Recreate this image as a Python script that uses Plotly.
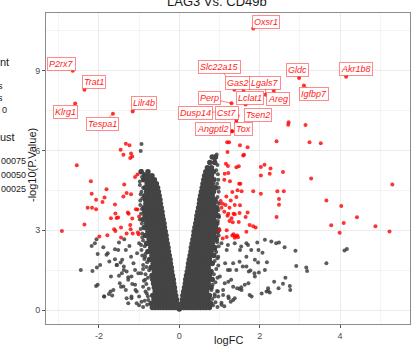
import plotly.graph_objects as go

# ---- data -----------------------------------------------------------------
# Non-significant genes, dense core of the volcano: (-log10 p, [logFC, ...])
gray_core_rows = [
    (0.04, [0.0]),
    (0.10, [-0.04, -0.11, -0.18, -0.25, -0.32, -0.39, -0.46, -0.53, -0.60, -0.67,
            0.04, 0.11, 0.18, 0.25, 0.32, 0.39, 0.46, 0.53, 0.60, 0.67, 0.75]),
    (0.25, [-0.06, -0.13, -0.20, -0.27, -0.34, -0.41, -0.48, -0.55, -0.62, -0.70,
            0.06, 0.13, 0.20, 0.27, 0.34, 0.41, 0.48, 0.55, 0.62, 0.70, 0.78]),
    (0.40, [-0.07, -0.14, -0.21, -0.28, -0.35, -0.42, -0.49, -0.56, -0.63,
            0.08, 0.15, 0.22, 0.29, 0.36, 0.43, 0.50, 0.57, 0.64, 0.72]),
    (0.55, [-0.09, -0.16, -0.23, -0.30, -0.37, -0.44, -0.51, -0.58, -0.66,
            0.09, 0.16, 0.23, 0.30, 0.37, 0.44, 0.51, 0.58, 0.66, 0.75]),
    (0.70, [-0.11, -0.18, -0.25, -0.32, -0.39, -0.46, -0.53, -0.60,
            0.11, 0.18, 0.25, 0.32, 0.39, 0.46, 0.53, 0.60, 0.68]),
    (0.85, [-0.12, -0.19, -0.26, -0.33, -0.40, -0.47, -0.54, -0.62,
            0.13, 0.20, 0.27, 0.34, 0.41, 0.48, 0.55, 0.62, 0.70, 0.79]),
    (1.00, [-0.14, -0.21, -0.28, -0.35, -0.42, -0.49, -0.56, -0.64,
            0.15, 0.22, 0.29, 0.36, 0.43, 0.50, 0.57, 0.64, 0.72]),
    (1.15, [-0.15, -0.22, -0.29, -0.36, -0.43, -0.50, -0.57, -0.66,
            0.16, 0.23, 0.30, 0.37, 0.44, 0.51, 0.58, 0.65, 0.73, 0.82]),
    (1.30, [-0.17, -0.24, -0.31, -0.38, -0.45, -0.52, -0.60, -0.68,
            0.18, 0.25, 0.32, 0.39, 0.46, 0.53, 0.60, 0.67, 0.75]),
    (1.45, [-0.19, -0.26, -0.33, -0.40, -0.47, -0.54, -0.62,
            0.20, 0.27, 0.34, 0.41, 0.48, 0.55, 0.62, 0.70, 0.79]),
    (1.60, [-0.20, -0.27, -0.34, -0.41, -0.48, -0.55, -0.63, -0.70,
            0.22, 0.29, 0.36, 0.43, 0.50, 0.57, 0.64, 0.72]),
    (1.75, [-0.22, -0.29, -0.36, -0.43, -0.50, -0.57, -0.65,
            0.23, 0.30, 0.37, 0.44, 0.51, 0.58, 0.65, 0.73, 0.82]),
    (1.90, [-0.23, -0.30, -0.37, -0.44, -0.51, -0.58, -0.66, -0.74,
            0.25, 0.32, 0.39, 0.46, 0.53, 0.60, 0.67, 0.75]),
    (2.05, [-0.25, -0.32, -0.39, -0.46, -0.53, -0.60, -0.68,
            0.27, 0.34, 0.41, 0.48, 0.55, 0.62, 0.69, 0.77, 0.86]),
    (2.20, [-0.27, -0.34, -0.41, -0.48, -0.55, -0.62, -0.70, -0.78,
            0.29, 0.36, 0.43, 0.50, 0.57, 0.64, 0.71, 0.79]),
    (2.35, [-0.28, -0.35, -0.42, -0.49, -0.56, -0.63, -0.71,
            0.30, 0.37, 0.44, 0.51, 0.58, 0.65, 0.72, 0.80, 0.88]),
    (2.50, [-0.30, -0.37, -0.44, -0.51, -0.58, -0.65, -0.73, -0.81,
            0.32, 0.39, 0.46, 0.53, 0.60, 0.67, 0.74, 0.82]),
    (2.65, [-0.32, -0.39, -0.46, -0.53, -0.60, -0.67, -0.75,
            0.34, 0.41, 0.48, 0.55, 0.62, 0.69, 0.76, 0.84, 0.92]),
    (2.80, [-0.33, -0.40, -0.47, -0.54, -0.61, -0.68, -0.76, -0.84,
            0.36, 0.43, 0.50, 0.57, 0.64, 0.71, 0.78, 0.86]),
    (2.95, [-0.35, -0.42, -0.49, -0.56, -0.63, -0.70, -0.78,
            0.37, 0.44, 0.51, 0.58, 0.65, 0.72, 0.80, 0.88, 0.95]),
    (3.10, [-0.37, -0.44, -0.51, -0.58, -0.65, -0.72, -0.80, -0.87,
            0.39, 0.46, 0.53, 0.60, 0.67, 0.74, 0.82, 0.90]),
    (3.25, [-0.38, -0.45, -0.52, -0.59, -0.66, -0.73, -0.81,
            0.41, 0.48, 0.55, 0.62, 0.69, 0.76, 0.84, 0.93]),
    (3.40, [-0.40, -0.47, -0.54, -0.61, -0.68, -0.75, -0.83, -0.90,
            0.43, 0.50, 0.57, 0.64, 0.71, 0.78, 0.86]),
    (3.55, [-0.42, -0.49, -0.56, -0.63, -0.70, -0.77, -0.85,
            0.44, 0.51, 0.58, 0.65, 0.72, 0.80, 0.88, 0.96]),
    (3.70, [-0.43, -0.50, -0.57, -0.64, -0.71, -0.78, -0.86,
            0.46, 0.53, 0.60, 0.67, 0.74, 0.82, 0.90]),
    (3.85, [-0.45, -0.52, -0.59, -0.66, -0.73, -0.80, -0.88,
            0.48, 0.55, 0.62, 0.69, 0.76, 0.84, 0.93]),
    (4.00, [-0.47, -0.54, -0.61, -0.68, -0.75, -0.83,
            0.50, 0.57, 0.64, 0.71, 0.78, 0.86]),
    (4.15, [-0.48, -0.55, -0.62, -0.69, -0.76, -0.84,
            0.51, 0.58, 0.65, 0.72, 0.80, 0.89]),
    (4.30, [-0.50, -0.57, -0.64, -0.71, -0.78, -0.86,
            0.53, 0.60, 0.67, 0.74, 0.82]),
    (4.45, [-0.52, -0.59, -0.66, -0.73, -0.81,
            0.55, 0.62, 0.69, 0.76, 0.85]),
    (4.60, [-0.54, -0.61, -0.68, -0.76, -0.85,
            0.57, 0.64, 0.71, 0.79, 0.90]),
    (4.75, [-0.57, -0.64, -0.72, -0.80, 0.59, 0.66, 0.73, 0.82]),
    (4.90, [-0.62, -0.70, -0.78, -0.88, 0.61, 0.68, 0.76, 0.86]),
    (5.05, [-0.68, -0.77, -0.86, 0.63, 0.71, 0.80]),
    (5.20, [-0.78, -0.95, 0.66, 0.75, 0.85]),
    (5.35, [0.70, 0.80]),
    (5.55, [0.76, 0.88]),
    (5.75, [0.82, 0.90]),
]

# Non-significant genes along the ragged outer edges of the core
edge_fc = [
    -0.80, -0.86, -0.78, -0.84, -0.76, -0.82, -0.88, -0.78, -0.84, -0.75,
    -0.82, -0.90, -0.80, -0.87, -0.84, -0.92, -0.86, -0.95, -0.90, -0.92,
    -0.96, -0.93, -0.98, -0.95, -0.93, -0.97, -0.92, -0.96, -0.90, -0.98,
    -0.93, -0.88, -0.90, -1.00,
    0.84, 0.90, 0.82, 0.88, 0.94, 0.83, 0.90, 0.95, 0.86, 0.92,
    0.97, 0.88, 0.95, 0.92, 0.98, 0.94, 0.98, 0.99, 0.96, 0.99,
    0.97, 0.99, 0.95, 0.98, 0.94, 0.97, 0.92, 0.95, 0.88, 0.93,
    0.95, 1.05, 1.12,
]
edge_lp = [
    0.20, 0.35, 0.52, 0.70, 0.80, 0.98, 1.10, 1.22, 1.35, 1.50,
    1.62, 1.55, 1.80, 1.92, 2.12, 2.05, 2.40, 2.45, 2.62, 2.88,
    3.05, 3.25, 3.40, 3.62, 3.80, 3.95, 4.20, 4.35, 4.60, 4.70,
    5.00, 5.12, 0.12, 0.18,
    0.18, 0.30, 0.42, 0.60, 0.72, 0.95, 1.05, 1.22, 1.35, 1.55,
    1.68, 1.85, 1.95, 2.18, 2.40, 2.55, 2.80, 3.05, 3.35, 3.50,
    3.75, 4.00, 4.25, 4.45, 4.75, 4.90, 5.25, 5.45, 5.65, 5.85,
    0.12, 0.20, 0.15,
]

# Non-significant genes scattered further out
gray_fc = [
    -2.06, -1.89, -1.97, -2.03, -1.78, -1.70, -1.75, -1.60, -1.50, -1.37,
    -1.33, -1.24, -1.20, -1.42, -1.55, -1.50, -1.38, -1.27, -1.17, -1.09,
    -1.00, -1.10, -1.14, -1.05, -1.00, -0.92, -1.45, -1.33, -1.67, -1.87,
    -0.94, -0.85, -0.90, -0.95, -0.85, -0.90, -0.81, -0.77, -1.19, -1.27,
    -1.06, -0.94, -2.45, -2.07, -1.87, -2.18, -2.10, -2.03, -2.16, -2.05,
    -1.71, -1.64, -1.81, -1.74, -1.60, -1.52, -1.56, -1.46, -1.38, -1.43,
    -1.31, -1.48, -1.39, -1.27, -1.19, -1.10, -1.06, -1.19, -1.31, -1.02,
    -0.94, -0.96, -0.94, -0.90, -0.98, -0.94, -0.97,
    2.29, 2.41, 2.48, 2.62, 2.89, 1.94, 2.07, 1.96, 2.18, 2.91,
    3.16, 3.18, 3.66, 4.11, 4.17, 2.64, 2.36, 2.58, 2.47, 2.75,
    2.76, 2.21, 2.25, 1.75, 1.87, 1.98, 1.73, 1.77, 1.63, 1.50,
    1.44, 1.54, 1.34, 1.28, 1.05, 1.21, 1.38, 1.54, 1.71, 1.79,
    1.67, 1.50, 1.34, 1.21, 1.42, 1.58, 1.29, 1.13, 0.96, 1.09,
    1.23, 0.88, 0.93, 1.05, 1.18, 0.97, 1.14, 1.26, 1.01, 1.22,
    1.34, 1.09, 1.22, 1.38, 0.97, 0.89, 0.80, 1.55, 1.72, 1.88,
    2.05, 1.80, 2.21, 1.67, 1.51, 1.67, 1.97, 2.13, 1.88, 2.13,
    2.17, 0.96, 0.98, 0.94,
]
gray_lp = [
    2.66, 2.36, 1.70, 0.95, 2.14, 1.26, 0.61, 2.29, 2.54, 2.66,
    2.26, 2.41, 2.01, 1.89, 1.70, 1.29, 1.51, 1.24, 0.98, 0.76,
    0.51, 1.51, 1.76, 2.14, 2.51, 2.74, 0.88, 0.76, 0.55, 0.51,
    2.26, 2.01, 1.70, 1.39, 1.14, 0.88, 0.63, 0.38, 0.45, 0.26,
    0.26, 0.32, 1.51, 0.91, 0.51, 2.41, 2.51, 2.11, 1.47, 1.60,
    0.70, 0.76, 2.08, 1.83, 1.91, 2.26, 1.70, 1.79, 1.64, 1.39,
    1.45, 1.01, 0.89, 1.14, 1.26, 0.95, 0.70, 0.51, 0.45, 1.39,
    6.24, 5.98, 5.23, 4.90, 4.83, 4.45, 4.12,
    2.58, 2.51, 2.54, 2.36, 2.23, 2.54, 2.16, 1.79, 1.80, 1.66,
    1.60, 1.47, 1.76, 2.24, 2.30, 1.22, 1.07, 0.99, 0.82, 0.91,
    0.76, 0.72, 0.66, 0.57, 1.39, 1.41, 1.45, 1.49, 0.95, 0.79,
    0.82, 0.86, 0.38, 0.32, 0.28, 2.45, 2.51, 2.39, 2.45, 2.26,
    2.01, 1.82, 1.76, 1.51, 1.51, 1.64, 1.14, 1.01, 0.70, 0.57,
    0.45, 0.51, 2.76, 2.51, 2.26, 2.01, 1.76, 1.51, 1.26, 1.07,
    0.88, 0.76, 0.51, 0.45, 0.51, 2.26, 0.76, 0.76, 1.01, 1.26,
    0.63, 0.51, 0.82, 1.64, 2.26, 2.51, 2.26, 2.64, 1.89, 1.51,
    0.70, 5.10, 4.60, 4.05,
]

# Significant genes (|logFC| > 1) without a label
red_fc = [
    -2.92, -2.55, -1.33, -1.24, -1.46, -1.39, -1.20, -1.17, -1.22, -2.20,
    -1.10, -1.04, -1.37, -2.18, -1.81, -1.86, -2.07, -1.31, -1.20, -1.39,
    -2.28, -2.17, -2.07, -1.91, -1.60, -1.59, -1.70, -1.56, -1.52, -1.28,
    -1.26, -1.08, -1.04, -1.17, -1.00, -2.36, -1.22, -1.21, -1.45, -1.62,
    -1.99, -1.79, -1.59, -1.45, -1.31, -1.16, -1.01, -1.03,
    2.72, 2.71, 3.14, 2.42, 3.24, 3.52, 2.12, 2.27, 2.03, 2.58,
    3.28, 5.30, 2.44, 2.60, 2.03, 2.48, 2.48, 3.66, 4.03, 4.42,
    3.78, 4.09, 4.88, 5.23, 3.99, 1.19, 1.24, 1.51, 1.70, 1.20,
    1.61, 1.59, 2.03, 1.16, 1.21, 1.42, 1.48, 1.13, 1.22, 2.25,
    1.26, 1.12, 1.49, 1.52, 1.45, 1.32, 1.17, 1.55, 1.84, 1.03,
    1.08, 1.28, 1.42, 1.51, 1.12, 1.20, 1.30, 1.25, 1.38, 1.33,
    1.70, 1.65, 1.84, 1.00, 1.18, 1.35, 1.40, 1.38, 1.44, 1.46,
    1.32, 1.18, 1.08, 1.90, 2.42, 1.48, 1.75, 1.67, 1.05, 1.15,
    1.25, 1.38, 1.22, 1.35, 1.50, 1.32, 1.42,
]
red_lp = [
    2.97, 5.44, 6.25, 6.19, 6.02, 5.84, 5.88, 5.77, 5.71, 4.84,
    5.00, 5.09, 4.72, 4.37, 4.54, 4.23, 4.15, 4.40, 4.35, 4.27,
    3.85, 3.85, 3.79, 4.06, 3.97, 3.63, 3.45, 3.46, 3.48, 3.67,
    3.62, 3.79, 3.78, 3.44, 3.52, 3.22, 3.20, 3.04, 3.10, 3.04,
    2.77, 2.81, 2.97, 2.73, 2.88, 2.88, 2.85, 2.92,
    7.06, 6.96, 6.95, 6.34, 6.31, 6.27, 5.46, 5.32, 5.06, 5.19,
    4.94, 4.72, 4.47, 4.47, 4.37, 4.17, 3.96, 4.12, 3.91, 3.49,
    3.19, 3.27, 3.15, 2.95, 2.91, 6.31, 6.31, 6.19, 6.12, 5.94,
    5.84, 5.81, 5.38, 5.50, 5.41, 5.37, 5.40, 5.12, 5.15, 5.12,
    4.84, 4.90, 4.75, 4.75, 4.50, 4.44, 4.27, 4.47, 4.47, 4.10,
    4.00, 4.12, 4.25, 3.94, 3.70, 3.55, 3.45, 3.35, 3.60, 3.30,
    3.67, 3.50, 3.15, 3.00, 3.00, 2.85, 2.78, 2.72, 2.80, 2.74,
    2.80, 2.75, 2.69, 3.10, 3.50, 3.31, 3.20, 2.94, 3.85, 3.95,
    3.85, 3.95, 3.62, 3.62, 3.65, 6.72, 7.15,
]

# Labelled genes
genes = ["Oxsr1", "P2rx7", "Trat1", "Klrg1", "Tespa1", "Lilr4b", "Slc22a15",
         "Gas2", "Lgals7", "Gldc", "Akr1b8", "Igfbp7", "Areg", "Lclat1",
         "Perp", "Dusp14", "Cst7", "Tsen2", "Angptl2", "Tox"]
genes_fc = [1.84, -2.65, -2.36, -2.59, -1.65, -1.16, 1.37,
            1.60, 2.15, 2.98, 4.15, 3.10, 2.35, 1.65,
            1.30, 1.05, 1.45, 1.75, 1.30, 1.42]
genes_lp = [10.58, 8.99, 8.28, 7.76, 7.38, 7.46, 8.28,
            8.22, 8.09, 8.72, 8.77, 8.44, 8.25, 7.72,
            7.77, 7.45, 7.30, 7.40, 6.72, 7.05]

# Where each label box sits (centre, data units)
label_pos = {
    "Oxsr1": (2.16, 10.83), "P2rx7": (-2.92, 9.26), "Trat1": (-2.11, 8.56),
    "Klrg1": (-2.84, 7.45), "Tespa1": (-1.90, 7.00), "Lilr4b": (-0.88, 7.78),
    "Slc22a15": (1.01, 9.14), "Gas2": (1.47, 8.55), "Lgals7": (2.14, 8.55),
    "Gldc": (2.94, 9.03), "Akr1b8": (4.39, 9.06), "Igfbp7": (3.36, 8.11),
    "Areg": (2.46, 7.92), "Lclat1": (1.77, 7.97), "Perp": (0.75, 7.95),
    "Dusp14": (0.40, 7.41), "Cst7": (1.19, 7.41), "Tsen2": (1.95, 7.34),
    "Angptl2": (0.84, 6.79), "Tox": (1.59, 6.79),
}

x_ticks = [-2, 0, 2, 4]
y_ticks = [0, 3, 6, 9]

# ---- figure ---------------------------------------------------------------
core_x, core_y = [], []
for lp, fcs in gray_core_rows:
    core_x.extend(fcs)
    core_y.extend([lp] * len(fcs))

GRAY = "rgba(64,64,64,0.85)"
RED = "rgba(255,0,0,0.8)"
FONT = "Liberation Sans, Arial, sans-serif"

fig = go.Figure()
# overlapping points in the core merge into a solid mass
fig.add_trace(go.Scatter(x=core_x, y=core_y, mode="markers",
                         marker=dict(size=5.5, color="rgb(68,68,68)",
                                     line=dict(width=0)),
                         hoverinfo="skip"))
fig.add_trace(go.Scatter(x=edge_fc + gray_fc, y=edge_lp + gray_lp, mode="markers",
                         marker=dict(size=4, color=GRAY, line=dict(width=0)),
                         hoverinfo="skip"))
fig.add_trace(go.Scatter(x=red_fc + genes_fc, y=red_lp + genes_lp, mode="markers",
                         marker=dict(size=4, color=RED, line=dict(width=0)),
                         hoverinfo="skip"))

for g, fx, fy in zip(genes, genes_fc, genes_lp):
    lx, ly = label_pos[g]
    fig.add_annotation(x=fx, y=fy, ax=lx, ay=ly, axref="x", ayref="y",
                       text="<i>%s</i>" % g, showarrow=True, arrowhead=0,
                       arrowwidth=0.8, arrowcolor="rgba(255,0,0,0.6)",
                       standoff=0, startstandoff=0,
                       font=dict(family=FONT, size=9, color="#FF1A1A"),
                       bgcolor="white", bordercolor="rgba(255,60,60,0.6)",
                       borderwidth=1, borderpad=1)

# title, axis titles
fig.add_annotation(text="LAG3 Vs. CD49b", xref="paper", yref="paper",
                   x=(217 - 46) / 364, y=1.0 + (13 - 11.5) / 311,
                   xanchor="center", yanchor="bottom", showarrow=False,
                   font=dict(family=FONT, size=13, color="#1a1a1a"))
fig.add_annotation(text="logFC", xref="paper", yref="paper",
                   x=(228 - 46) / 364, y=-(340 - 324) / 311,
                   xanchor="center", yanchor="middle", showarrow=False,
                   font=dict(family=FONT, size=11, color="#1a1a1a"))
fig.add_annotation(text="-log10(P.Value)", xref="paper", yref="paper",
                   x=-(46 - 32) / 364, y=(324 - 165) / 311, textangle=-90,
                   xanchor="center", yanchor="middle", showarrow=False,
                   font=dict(family=FONT, size=11, color="#1a1a1a"))

# legend text running off the left edge
legend_bits = [("nt", 11, 11, 62), ("s", 9, 5, 86), ("s", 9, 5, 98),
               ("0", 9, 9, 110), ("ust", 11, 17, 137), ("00075", 9, 28, 161),
               ("00050", 9, 28, 175), ("00025", 9, 28, 189)]
for txt, sz, right, ypx in legend_bits:
    fig.add_annotation(text=txt, xref="paper", yref="paper",
                       x=(right - 46) / 364, y=(324 - ypx) / 311,
                       xanchor="right", yanchor="middle", showarrow=False,
                       font=dict(family=FONT, size=sz, color="#1a1a1a"))

axis_common = dict(showgrid=True, gridcolor="#EBEBEB", gridwidth=1,
                   zeroline=False, showline=True, mirror=True,
                   linecolor="#8c8c8c", linewidth=1, ticks="outside",
                   ticklen=3, tickcolor="#555", tickwidth=1,
                   tickfont=dict(family=FONT, size=9, color="#4D4D4D"))
fig.update_xaxes(range=[-3.316, 5.74], tickvals=x_ticks,
                 ticktext=[str(v) for v in x_ticks],
                 minor=dict(tickvals=[-3, -1, 1, 3, 5], showgrid=True,
                            gridcolor="#F4F4F4", gridwidth=0.6, ticklen=0),
                 **axis_common)
fig.update_yaxes(range=[-0.52, 11.16], tickvals=y_ticks,
                 ticktext=[str(v) for v in y_ticks],
                 minor=dict(tickvals=[1.5, 4.5, 7.5, 10.5], showgrid=True,
                            gridcolor="#F4F4F4", gridwidth=0.6, ticklen=0),
                 **axis_common)
fig.update_layout(width=416, height=350, showlegend=False,
                  margin=dict(l=46, r=6, t=13, b=26),
                  plot_bgcolor="white", paper_bgcolor="white")

fig.write_html("out.html")
